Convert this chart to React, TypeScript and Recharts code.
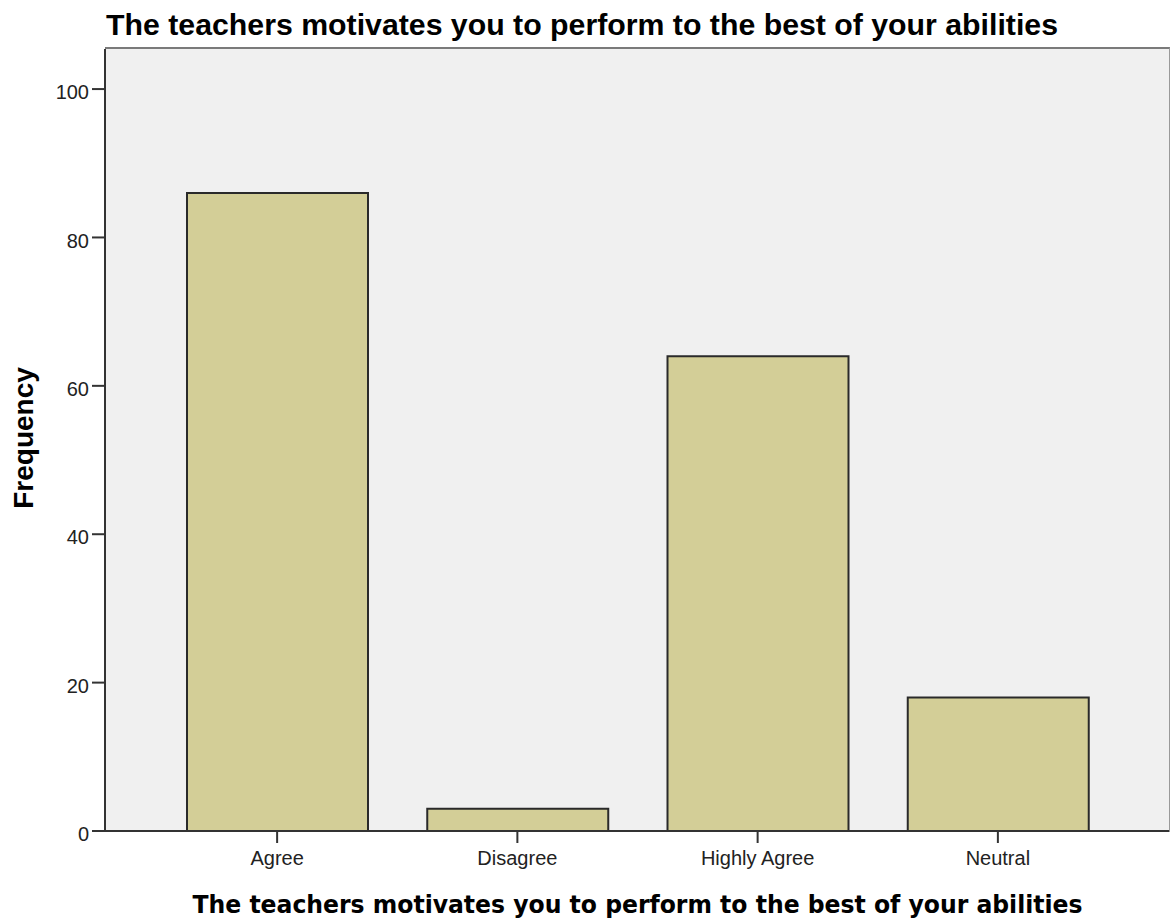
import React from 'react';
import { BarChart, Bar, XAxis, YAxis, CartesianGrid } from 'recharts';

const categories = ['Agree', 'Disagree', 'Highly Agree', 'Neutral'];
const frequencies = [86, 3, 64, 18];
const yTicks = [0, 20, 40, 60, 80, 100];
const chartTitle = 'The teachers motivates you to perform to the best of your abilities';
const xTitle = 'The teachers motivates you to perform to the best of your abilities';
const yTitle = 'Frequency';

const data = categories.map((c, i) => ({ category: c, frequency: frequencies[i] }));

const W = 1171;
const H = 922;
const PLOT_LEFT = 105;
const PLOT_TOP = 49;
const PLOT_RIGHT = 1;
const XAXIS_H = 91;

const XLabel = (props: any) => {
  const vb = props.viewBox || {};
  return (
    <text
      x={vb.x + vb.width / 2}
      y={vb.y + 82}
      textAnchor="middle"
      fontFamily="'DejaVu Sans', sans-serif"
      fontWeight="bold"
      fontSize={24}
      fill="#000"
      textLength={890}
      lengthAdjust="spacingAndGlyphs"
    >
      {xTitle}
    </text>
  );
};

const YLabel = (props: any) => {
  const vb = props.viewBox || {};
  const cx = 33;
  const cy = vb.y + vb.height / 2 - 2;
  return (
    <text
      x={cx}
      y={cy}
      textAnchor="middle"
      transform={`rotate(-90 ${cx} ${cy})`}
      fontFamily="'Liberation Sans', Arial, sans-serif"
      fontWeight="bold"
      fontSize={28}
      fill="#000"
    >
      {yTitle}
    </text>
  );
};

export default function App() {
  return (
    <div style={{ position: 'absolute', left: 0, top: 0, width: W, height: H, background: '#fff' }}>
      <svg
        width={W}
        height={60}
        style={{ position: 'absolute', left: 0, top: 0, pointerEvents: 'none' }}
      >
        <text
          x={106}
          y={35}
          fontFamily="'Liberation Sans', Arial, sans-serif"
          fontWeight="bold"
          fontSize={30}
          fill="#000"
          textLength={952}
          lengthAdjust="spacingAndGlyphs"
        >
          {chartTitle}
        </text>
      </svg>
      <div style={{ position: 'absolute', left: 0, top: 0 }}>
        <BarChart
          width={W}
          height={H}
          data={data}
          margin={{ top: PLOT_TOP, right: PLOT_RIGHT, bottom: 0, left: 0 }}
          barSize={181}
        >
          <CartesianGrid fill="#f0f0f0" horizontal={false} vertical={false} />
          <XAxis
            dataKey="category"
            height={XAXIS_H}
            padding={{ left: 52, right: 52 }}
            tickSize={12}
            tickMargin={8}
            tickLine={{ stroke: '#333', strokeWidth: 2 }}
            axisLine={{ stroke: '#333', strokeWidth: 2 }}
            tick={{ fill: '#222', fontSize: 20, fontFamily: "'Liberation Sans', Arial, sans-serif" }}
            interval={0}
            label={<XLabel />}
          />
          <YAxis
            width={PLOT_LEFT}
            domain={[0, 105.4]}
            ticks={yTicks}
            allowDataOverflow
            tickSize={13}
            tickMargin={3}
            tickLine={{ stroke: '#333', strokeWidth: 2 }}
            axisLine={{ stroke: '#333', strokeWidth: 2 }}
            tick={{ fill: '#222', fontSize: 20, fontFamily: "'Liberation Sans', Arial, sans-serif", dy: 3 }}
            label={<YLabel />}
          />
          <Bar
            dataKey="frequency"
            fill="#d3ce97"
            stroke="#2a2a2a"
            strokeWidth={2}
            isAnimationActive={false}
          />
        </BarChart>
      </div>
      <div
        style={{
          position: 'absolute',
          left: PLOT_LEFT,
          top: PLOT_TOP - 2,
          width: W - PLOT_LEFT - PLOT_RIGHT - 1,
          height: H - PLOT_TOP - XAXIS_H + 1,
          borderTop: '2.5px solid #7a7a7a',
          borderRight: '1px solid #9a9a9a',
          pointerEvents: 'none',
        }}
      />
    </div>
  );
}
